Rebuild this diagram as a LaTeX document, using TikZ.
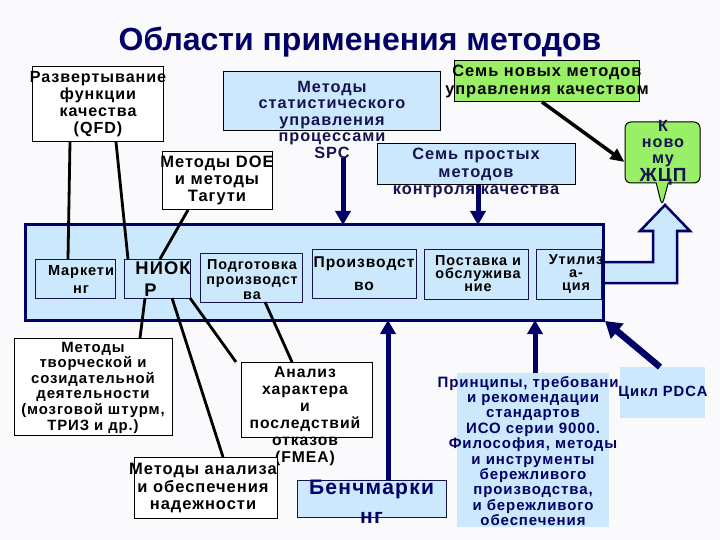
\documentclass[tikz,border=0pt]{standalone}
\usepackage{fontspec}
\setmainfont{Liberation Sans}[LetterSpace=6]
\newfontfamily\titlefont{Liberation Sans}
\usetikzlibrary{arrows.meta,shapes.callouts}
\definecolor{lb}{RGB}{204,232,252}
\definecolor{nv}{RGB}{0,0,102}
\definecolor{gr}{RGB}{153,240,102}
\definecolor{bg}{RGB}{250,250,252}
\definecolor{tn}{RGB}{20,20,80}
\newcommand{\fs}[2]{\bfseries\fontsize{#1}{#2}\selectfont}
\tikzset{
  box/.style={draw=black, line width=1pt, fill=white, inner sep=0pt, outer sep=0pt},
  bbox/.style={box, fill=lb},
  ibox/.style={draw=tn, line width=1pt, fill=lb, inner sep=0pt, outer sep=0pt},
  nbox/.style={draw=none, fill=lb, inner sep=0pt, outer sep=0pt},
  txt/.style={align=center, inner sep=0pt, outer sep=0pt, font=\fs{16}{17}},
  conn/.style={draw=black, line width=2.8pt},
  narrow/.style={draw=nv, line width=5pt, -{Triangle[width=15pt,length=14pt]}},
}
\begin{document}
\begin{tikzpicture}[x=1pt,y=-1pt]
\fill[bg] (0,0) rectangle (720,540);
\useasboundingbox (0,0) rectangle (720,540);

% title
\node[inner sep=0pt, text=nv, font=\titlefont\bfseries\fontsize{32}{32}\selectfont] (title) at (360,42) {Области применения методов};

% top boxes
\node[box, minimum width=131pt, minimum height=75pt] (qfd) at (97.5,104.5) {};
\node[txt, font=\fs{16.1}{17}] (qfdt) at (98,104.5) {Развертывание\\функции\\качества\\(QFD)};

\node[box, minimum width=110pt, minimum height=58pt] (doe) at (217,181) {};
\node[txt, font=\fs{16.5}{17}] (doet) at (217,180.5) {Методы DOE\\и методы\\Тагути};

\node[bbox, minimum width=217pt, minimum height=59pt] (spc) at (331.5,101.5) {};
\node[txt, text=tn, font=\fs{16.3}{16.5}] (spct) at (332,119.5) {Методы\\статистического\\управления\\процессами\\SPC};

\node[box, fill=gr, minimum width=185pt, minimum height=41pt] (gn) at (546.5,81.5) {};
\node[txt, font=\fs{16.4}{18}] (gnt) at (547,81.5) {Семь новых методов\\управления качеством};

\node[bbox, minimum width=198pt, minimum height=41pt] (ss) at (476,164.5) {};
\node[txt, text=tn, font=\fs{16.4}{17.5}] (sst) at (476,173) {Семь простых\\методов\\контроля качества};

% callout
\node[rectangle callout, draw=black, line width=1pt, fill=gr, rounded corners=6pt,
      minimum width=75pt, minimum height=61pt, inner sep=0pt,
      callout absolute pointer={(662,206)}, callout pointer width=12pt] (co) at (662.5,152.5) {};
\node[txt, text=tn, font=\fs{16.2}{16}] (cot) at (663,153) {К\\ново\\му\\{\fs{19}{17}ЖЦП}};

% block arrow
\path[fill=lb, draw=nv, line width=2.5pt, line join=miter]
  (600,262) -- (653,262) -- (653,231) -- (640,231) -- (665,205) -- (690,231)
  -- (677,231) -- (677,283) -- (600,283);

% life cycle
\node[draw=nv, line width=3pt, fill=lb, minimum width=578pt, minimum height=95pt, inner sep=0pt, outer sep=0pt] (lc) at (314,272.5) {};

\node[ibox, minimum width=80pt, minimum height=39pt] (mk) at (75,278.5) {};
\node[txt, font=\fs{14.6}{18}] (mkt) at (81,279.5) {Маркети\\нг};

\node[ibox, minimum width=66pt, minimum height=39pt] (nk) at (157,278.5) {};
\node[txt, align=left, font=\fs{18.3}{22}] (nkt) at (163,279.5) {НИОК\\\hspace*{9pt}Р};

\node[ibox, minimum width=102pt, minimum height=49pt] (pp) at (251,277.5) {};
\node[txt, font=\fs{14.4}{15}] (ppt) at (252,279.5) {Подготовка\\производст\\ва};

\node[ibox, minimum width=104pt, minimum height=49pt] (pr) at (364,273.5) {};
\node[txt, font=\fs{15.6}{23}] (prt) at (364,274) {Производст\\во};

\node[ibox, minimum width=104pt, minimum height=50pt] (ps) at (476,274) {};
\node[txt, font=\fs{14.4}{13}] (pst) at (478,273.5) {Поставка и\\обслужива\\ние};

\node[ibox, minimum width=65pt, minimum height=50pt] (ut) at (568.5,274) {};
\node[txt, font=\fs{14.4}{13}] (utt) at (576,273.5) {Утилиз\\а-\\ция};

% bottom boxes
\node[box, minimum width=158pt, minimum height=97pt] (cr) at (93,386.5) {};
\node[txt, font=\fs{14.9}{15.6}] (crt) at (93,387.5) {Методы\\творческой и\\созидательной\\деятельности\\(мозговой штурм,\\ТРИЗ и др.)};

\node[box, minimum width=131pt, minimum height=75pt] (fm) at (306.5,399.5) {};
\node[txt, font=\fs{15.7}{17}] (fmt) at (305,416) {Анализ\\характера\\и\\последствий\\отказов\\(FMEA)};

\node[box, minimum width=143pt, minimum height=61pt] (ma) at (205.5,487.5) {};
\node[txt, font=\fs{16.5}{17.5}] (mat) at (203,488) {Методы анализа\\и обеспечения\\надежности};

\node[ibox, minimum width=149pt, minimum height=37pt] (bm) at (371.5,498.5) {};
\node[txt, text=nv, font=\fs{21}{29}] (bmt) at (371.5,502) {Бенчмарки\\нг};

\node[nbox, minimum width=152pt, minimum height=154pt] (pc) at (533,450) {};
\node[txt, text=nv, font=\fs{15}{15.4}] (pct) at (533,451) {Принципы, требования\\и рекомендации\\стандартов\\ИСО серии 9000.\\Философия, методы\\и инструменты\\бережливого\\производства,\\и бережливого\\обеспечения};

\node[nbox, minimum width=85pt, minimum height=51pt] (pd) at (662.5,392.5) {};
\node[txt, text=nv, font=\fs{14.8}{17}] (pdt) at (663,392.5) {Цикл PDCA};

% connectors
\draw[conn] ([xshift=38pt]qfd.south west) -- ([xshift=33pt]mk.north west);
\draw[conn] ([xshift=84pt]qfd.south west) -- ([xshift=4pt]nk.north west);
\draw[conn] ([xshift=26pt]doe.south west) -- ([xshift=36pt]nk.north west);
\draw[conn] ([xshift=21pt]nk.south west) -- ([xshift=126pt]cr.north west);
\draw[conn] ([xshift=48pt]nk.south west) -- ([xshift=89pt]ma.north west);
\draw[conn] (nk.south east) -- ([xshift=-5pt]fm.north west);
\draw[conn] ([xshift=65pt]pp.south west) -- ([xshift=51pt]fm.north west);

\draw[narrow] ([xshift=11pt]spct.south) -- ([xshift=11pt]spct.south |- lc.north);
\draw[narrow] ([xshift=2pt]ss.south) -- ([xshift=2pt]ss.south |- lc.north);
\draw[narrow] ([xshift=16.5pt]bm.north) -- ([xshift=16.5pt]bm.north |- lc.south);
\draw[narrow] ([xshift=2pt]pc.north) -- ([xshift=2pt]pc.north |- lc.south);
\draw[draw=nv, line width=6.5pt, -{Triangle[width=19pt,length=16pt]}] ([xshift=-2.5pt]pd.north) -- ([xshift=2pt,yshift=-1pt]lc.south east);
\draw[draw=black, line width=3.5pt, -{Triangle[width=12pt,length=14pt]}] ([xshift=-4.5pt]gn.south) -- ([yshift=-9.5pt]co.west);
\end{tikzpicture}
\end{document}
